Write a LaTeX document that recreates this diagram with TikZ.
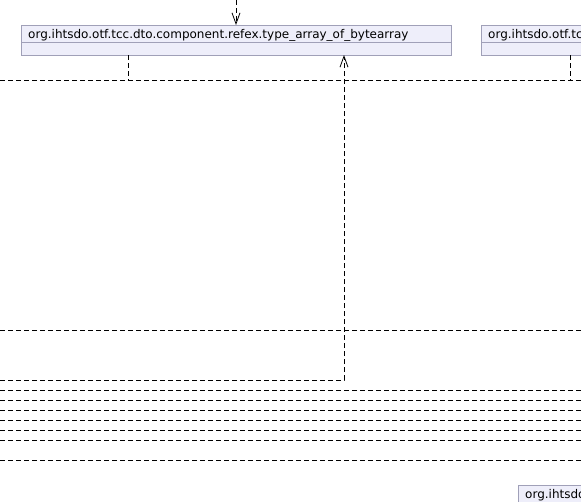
\documentclass[tikz,border=0pt]{standalone}
\usepackage{fontspec}
\setmainfont{DejaVu Sans}
\usetikzlibrary{arrows.meta}
\definecolor{boxfill}{RGB}{238,238,250}
\definecolor{boxline}{RGB}{160,160,184}
\begin{document}
\begin{tikzpicture}[x=1pt,y=-1pt,
  classbox/.style={draw=boxline, fill=boxfill, line width=1pt, inner sep=0pt,
    anchor=north west, minimum height=30pt},
  divider/.style={draw=boxline, line width=1pt},
  classname/.style={anchor=base west, inner sep=0pt, font=\fontsize{12}{14}\selectfont},
  dep/.style={draw=black, line width=0.8pt, dash pattern=on 5pt off 3pt},
  deparrow/.style={dep, -{Straight Barb[length=11pt,width=8pt,line width=0.8pt]}}
]
\clip (0,0) rectangle (581,501);

% class boxes
\node[classbox, minimum width=430pt] (A) at (21,25) {};
\draw[divider] (21,42) -- (451,42);
\node[classname] (Aname) at (28,38) {org.ihtsdo.otf.tcc.dto.component.refex.type\_array\_of\_bytearray};

\node[classbox, minimum width=200pt] (B) at (481,25) {};
\draw[divider] (481,42) -- (681,42);
\node[classname] (Bname) at (488,38) {org.ihtsdo.otf.tcc};

\node[classbox, minimum width=100pt] (C) at (518,485) {};
\node[classname] (Cname) at (525,498) {org.ihtsdo};

% connector end points
\coordinate (topin) at (236,0);
\coordinate (Ain) at (236,25);
\coordinate (Aout) at (128,55);
\coordinate (Abus) at (128,80);
\coordinate (Bout) at (570,55);
\coordinate (Bbus) at (570,80);
\coordinate (busL) at (0,80);
\coordinate (busR) at (581,80);
\coordinate (Aback) at (344,55);
\coordinate (turn) at (344,380);
\coordinate (backL) at (0,380);

% dependencies
\draw[deparrow] (topin) -- (Ain);
\draw[dep] (Aout) -- (Abus);
\draw[dep] (Bout) -- (Bbus);
\draw[dep] (busL) -- (busR);
\draw[deparrow] (backL) -- (turn) -- (Aback);

\foreach \y in {330,390,400,410,420,430,440,460} {
  \coordinate (l\y) at (0,\y);
  \coordinate (r\y) at (581,\y);
  \draw[dep] (l\y) -- (r\y);
}
\end{tikzpicture}
\end{document}
